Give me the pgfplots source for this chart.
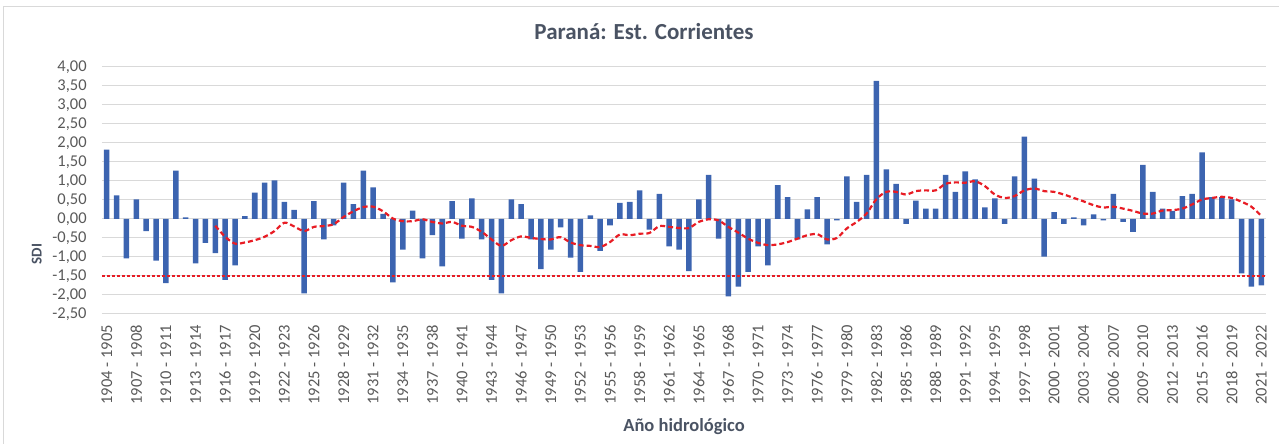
\documentclass[border=0pt]{standalone}
\usepackage{pgfplots}
\pgfplotsset{compat=1.18}
\usepackage{fontspec}
\setmainfont{Carlito}
\definecolor{barblue}{RGB}{60,100,176}
\definecolor{lblgray}{RGB}{89,89,89}
\definecolor{titlegray}{RGB}{74,83,99}
\definecolor{gridgray}{RGB}{217,217,217}
\definecolor{sdired}{RGB}{232,28,36}
\begin{document}
\begin{tikzpicture}[x=1pt,y=1pt]
\useasboundingbox (0,0) rectangle (1279,444);
\draw[gridgray, line width=0.8pt] (3.5,0) -- (3.5,437.5) -- (1279,437.5);
\begin{axis}[
  at={(101.8pt,130pt)}, anchor=south west,
  scale only axis, width=1164.4pt, height=247.3pt,
  xmin=-0.5, xmax=117.5, ymin=-2.5, ymax=4,
  axis line style={draw=none},
  major tick length=0pt,
  ymajorgrids, grid style={draw=gridgray, line width=1pt},
  ytick={-2.5,-2,...,4},
  yticklabel style={font=\fontsize{16.5}{18}\selectfont, text=lblgray, anchor=east, inner xsep=15pt, inner ysep=0pt},
  /pgf/number format/.cd, fixed, fixed zerofill, precision=2, use comma, assume math mode=true,
  /pgfplots/.cd,
  xtick={0,3,...,117},
  xticklabels={1904 - 1905,1907 - 1908,1910 - 1911,1913 - 1914,1916 - 1917,1919 - 1920,1922 - 1923,1925 - 1926,1928 - 1929,1931 - 1932,1934 - 1935,1937 - 1938,1940 - 1941,1943 - 1944,1946 - 1947,1949 - 1950,1952 - 1953,1955 - 1956,1958 - 1959,1961 - 1962,1964 - 1965,1967 - 1968,1970 - 1971,1973 - 1974,1976 - 1977,1979 - 1980,1982 - 1983,1985 - 1986,1988 - 1989,1991 - 1992,1994 - 1995,1997 - 1998,2000 - 2001,2003 - 2004,2006 - 2007,2009 - 2010,2012 - 2013,2015 - 2016,2018 - 2019,2021 - 2022},
  xticklabel style={font=\fontsize{16.5}{18}\selectfont, text=lblgray, rotate=90, anchor=east, inner xsep=11pt, inner ysep=0pt},
]
\addplot[ybar, bar width=0.56, fill=barblue, draw=none] coordinates {
(0,1.82) (1,0.62) (2,-1.04) (3,0.51) (4,-0.32) (5,-1.10) (6,-1.69) (7,1.27) (8,0.04) (9,-1.17)
(10,-0.63) (11,-0.90) (12,-1.60) (13,-1.22) (14,0.07) (15,0.69) (16,0.95) (17,1.01) (18,0.45) (19,0.24)
(20,-1.96) (21,0.47) (22,-0.54) (23,-0.17) (24,0.95) (25,0.39) (26,1.27) (27,0.83) (28,0.13) (29,-1.67)
(30,-0.81) (31,0.22) (32,-1.04) (33,-0.43) (34,-1.25) (35,0.47) (36,-0.52) (37,0.54) (38,-0.54) (39,-1.60)
(40,-1.96) (41,0.51) (42,0.39) (43,-0.54) (44,-1.32) (45,-0.81) (46,-0.22) (47,-1.02) (48,-1.39) (49,0.09)
(50,-0.84) (51,-0.17) (52,0.42) (53,0.45) (54,0.75) (55,-0.28) (56,0.66) (57,-0.72) (58,-0.81) (59,-1.37)
(60,0.51) (61,1.16) (62,-0.52) (63,-2.04) (64,-1.78) (65,-1.39) (66,-0.72) (67,-1.22) (68,0.89) (69,0.57)
(70,-0.54) (71,0.25) (72,0.57) (73,-0.67) (74,-0.04) (75,1.12) (76,0.45) (77,1.16) (78,3.63) (79,1.30)
(80,0.92) (81,-0.13) (82,0.48) (83,0.27) (84,0.27) (85,1.16) (86,0.71) (87,1.25) (88,1.04) (89,0.30)
(90,0.54) (91,-0.13) (92,1.12) (93,2.16) (94,1.06) (95,-0.99) (96,0.18) (97,-0.13) (98,0.04) (99,-0.17)
(100,0.12) (101,-0.04) (102,0.66) (103,-0.08) (104,-0.34) (105,1.42) (106,0.71) (107,0.27) (108,0.21) (109,0.60)
(110,0.66) (111,1.75) (112,0.57) (113,0.57) (114,0.51) (115,-1.43) (116,-1.78) (117,-1.75)
};
\addplot[sdired, line width=1.2pt, dash pattern=on 3pt off 2pt] coordinates {(-0.5,-1.5) (117.5,-1.5)};
\addplot[sdired, line width=2.2pt, dash pattern=on 5pt off 3pt, smooth] coordinates {
(11,-0.18) (12,-0.47) (13,-0.65) (14,-0.62) (15,-0.56) (16,-0.47) (17,-0.32) (18,-0.10) (19,-0.20)
(20,-0.32) (21,-0.21) (22,-0.19) (23,-0.14) (24,0.05) (25,0.20) (26,0.31) (27,0.32) (28,0.20) (29,0.01)
(30,-0.06) (31,-0.06) (32,-0.01) (33,-0.08) (34,-0.12) (35,-0.08) (36,-0.18) (37,-0.21) (38,-0.34) (39,-0.54)
(40,-0.71) (41,-0.56) (42,-0.46) (43,-0.50) (44,-0.53) (45,-0.54) (46,-0.48) (47,-0.62) (48,-0.69) (49,-0.71)
(50,-0.74) (51,-0.61) (52,-0.41) (53,-0.43) (54,-0.39) (55,-0.37) (56,-0.19) (57,-0.21) (58,-0.24) (59,-0.24)
(60,-0.08) (61,-0.01) (62,-0.04) (63,-0.21) (64,-0.36) (65,-0.52) (66,-0.63) (67,-0.69) (68,-0.67) (69,-0.61)
(70,-0.52) (71,-0.43) (72,-0.40) (73,-0.54) (74,-0.50) (75,-0.25) (76,-0.08) (77,0.14) (78,0.52) (79,0.71)
(80,0.71) (81,0.64) (82,0.73) (83,0.75) (84,0.75) (85,0.92) (86,0.96) (87,0.95) (88,0.99) (89,0.86)
(90,0.64) (91,0.55) (92,0.60) (93,0.75) (94,0.80) (95,0.73) (96,0.71) (97,0.64) (98,0.55) (99,0.46)
(100,0.36) (101,0.30) (102,0.32) (103,0.27) (104,0.21) (105,0.14) (106,0.14) (107,0.22) (108,0.23) (109,0.27)
(110,0.38) (111,0.51) (112,0.55) (113,0.58) (114,0.55) (115,0.45) (116,0.32) (117,0.08)
};
\end{axis}
\node[anchor=base, text=titlegray, font=\fontsize{23}{26}\selectfont\bfseries, inner sep=0pt] at (644,404) {Paraná: Est. Corrientes};
\node[anchor=base, text=titlegray, font=\fontsize{18.5}{20}\selectfont\bfseries, inner sep=0pt] at (684,12.3) {Año hidrológico};
\node[anchor=base, rotate=90, text=titlegray, font=\fontsize{15}{18}\selectfont\bfseries, inner sep=0pt] at (41.7,190) {SDI};
\end{tikzpicture}
\end{document}
